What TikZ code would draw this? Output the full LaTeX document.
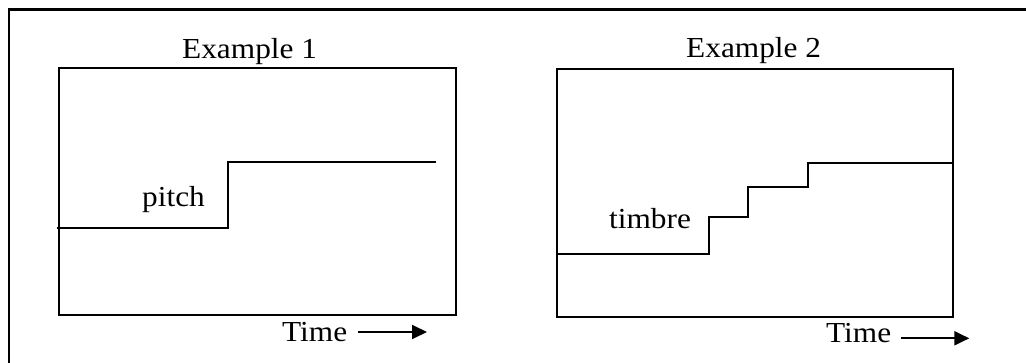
\documentclass[tikz,border=0pt]{standalone}
\usepackage{fontspec}
\setmainfont[FakeStretch=1.08]{Liberation Serif}
\usetikzlibrary{arrows.meta}
\begin{document}
\begin{tikzpicture}[x=1pt,y=-1pt,
  lbl/.style={inner sep=0pt,anchor=base west,font=\fontsize{29}{31}\selectfont},
  frame/.style={line width=1.8pt},
  curve/.style={line width=1.8pt,line join=miter},
  timearrow/.style={line width=2pt,-{Triangle[length=15pt,width=14pt]}}]
\path[use as bounding box,clip] (0,0) rectangle (1026,363);
\fill[white] (0,0) rectangle (1026,363);
% outer frame
\draw[line width=2.4pt] (8.7,400) -- (8.7,9.5) -- (1040,9.5) -- (1040,400);
% example 1
\draw[frame] (59,67.7) rectangle (455.7,315.3);
\node[lbl] (t1) at (182,58.3) {Example 1};
\draw[curve] (56.7,228.3) -- (228.3,228.3) -- (228.3,161.7) -- (435.7,161.7);
\node[lbl] (p1) at (142,206.7) {pitch};
\node[lbl] (time1) at (282,341.3) {Time};
\coordinate (a1e) at (427,332);
\draw[timearrow] (358,332) -- (a1e);
% example 2
\draw[frame] (556.7,69.3) rectangle (953.3,317.3);
\node[lbl] (t2) at (686,57.3) {Example 2};
\draw[curve] (556.7,254) -- (709.3,254) -- (709.3,217.3) -- (748.3,217.3) -- (748.3,186.7) -- (808.3,186.7) -- (808.3,162.7) -- (954.3,162.7);
\node[lbl] (p2) at (609,229) {timbre};
\node[lbl] (time2) at (826,343) {Time};
\coordinate (a2e) at (969.3,338.3);
\draw[timearrow] (901,338.3) -- (a2e);
\end{tikzpicture}
\end{document}
